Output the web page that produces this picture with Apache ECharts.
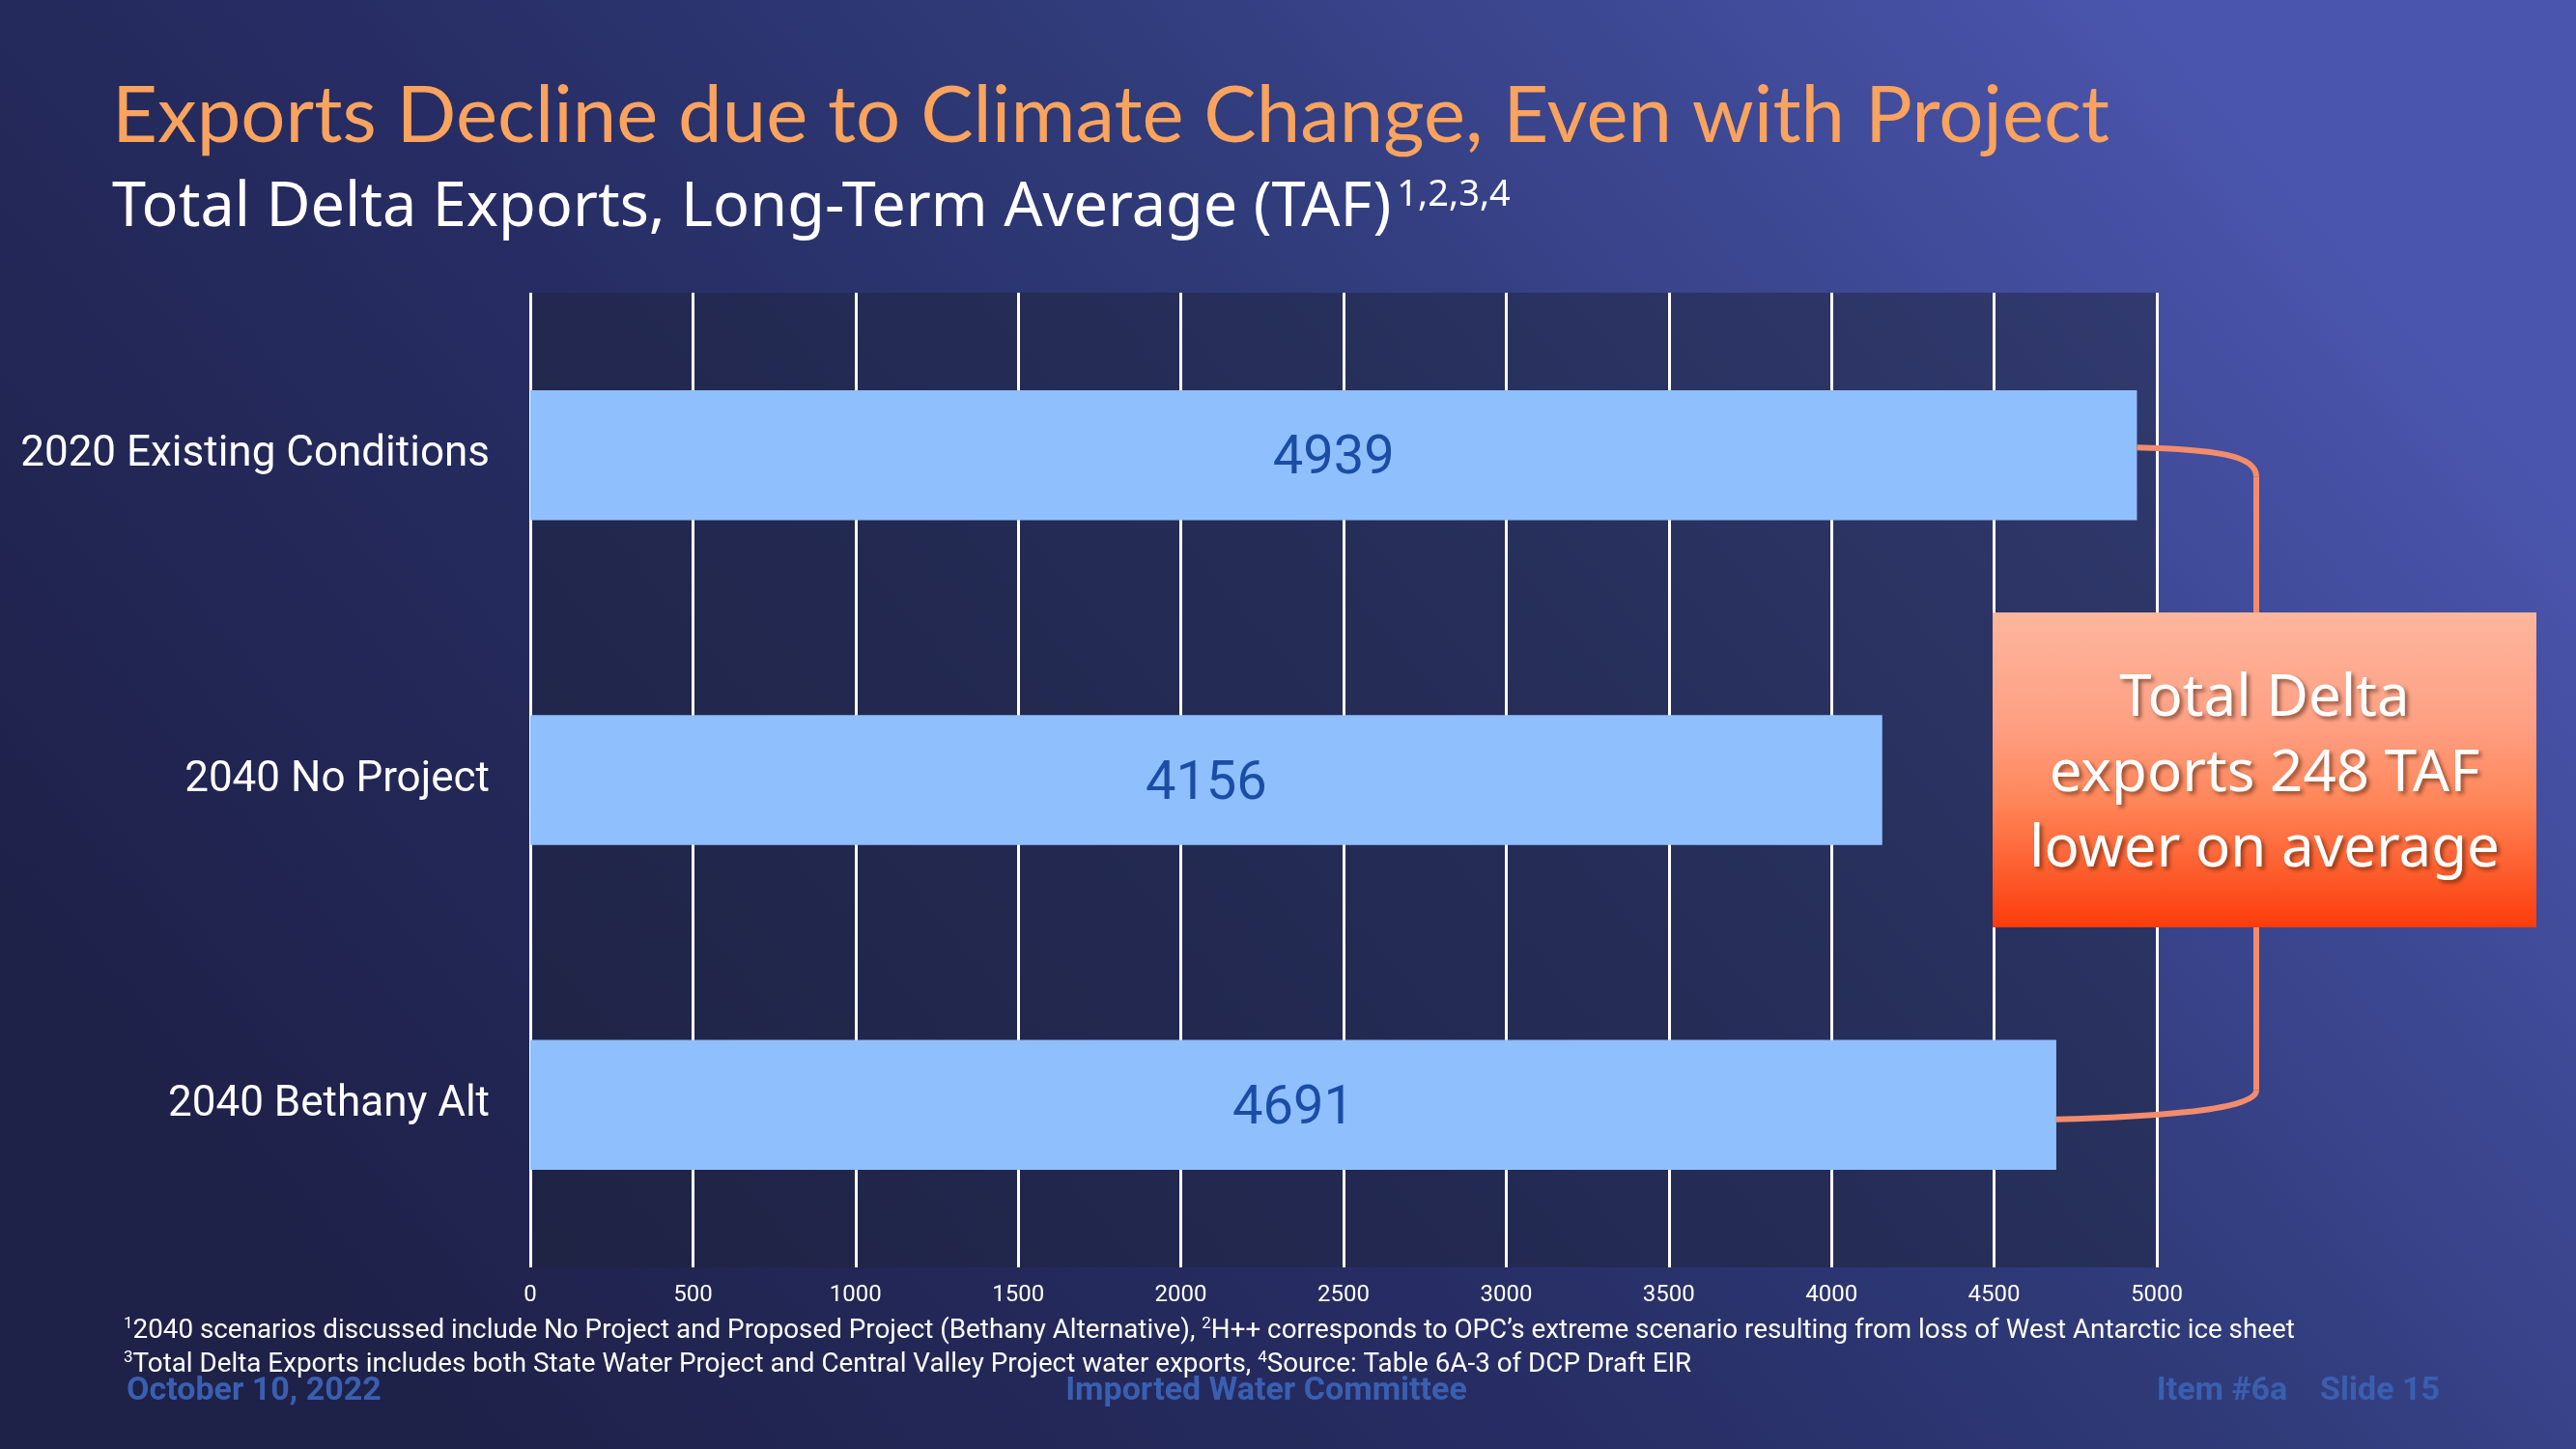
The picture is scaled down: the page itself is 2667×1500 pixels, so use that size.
<!DOCTYPE html>
<html>
<head>
<meta charset="utf-8">
<script src="https://cdn.jsdelivr.net/npm/echarts@6/dist/echarts.min.js"></script>
<style>
html,body{margin:0;padding:0;width:2667px;height:1500px;overflow:hidden;background:#262c58;}
#chart{width:2667px;height:1500px;}
</style>
</head>
<body>
<div id="chart"></div>
<script>
// ---- data ----
const categories = ['2020 Existing Conditions', '2040 No Project', '2040 Bethany Alt'];
const exportsTAF = [4939, 4156, 4691];
const axisMin = 0, axisMax = 5000, axisStep = 500;
const titleText = 'Exports Decline due to Climate Change, Even with Project';
const subtitleText = 'Total Delta Exports, Long-Term Average (TAF)';
const subtitleSup = '1,2,3,4';
const calloutLines = ['Total Delta', 'exports 248 TAF', 'lower on average'];
const footnote1 = '{s|1}{t|2040 scenarios discussed include No Project and Proposed Project (Bethany Alternative), }{s|2}{t|H++ corresponds to OPC\u2019s extreme scenario resulting from loss of West Antarctic ice sheet}';
const footnote2 = '{s|3}{t|Total Delta Exports includes both State Water Project and Central Valley Project water exports, }{s|4}{t|Source: Table 6A-3 of DCP Draft EIR}';
const footerLeft = 'October 10, 2022';
const footerMid = 'Imported Water Committee';
const footerRight = 'Item #6a    Slide 15';

const chart = echarts.init(document.getElementById('chart'));

function measure(text, font) {
  const c = document.createElement('canvas').getContext('2d');
  c.font = font;
  return c.measureText(text).width;
}

const subFont = '400 63px "Noto Sans"';
const subW = measure(subtitleText, subFont);

const option = {
  backgroundColor: {
    type: 'linear', x: 0.17, y: 1, x2: 0.83, y2: 0,
    colorStops: [
      { offset: 0, color: '#1e2148' },
      { offset: 0.383, color: '#272d64' },
      { offset: 0.614, color: '#2f3a78' },
      { offset: 1, color: '#4a55ad' }
    ]
  },
  animation: false,
  grid: {
    left: 549, right: 434, top: 303, bottom: 188,
    show: true, backgroundColor: 'rgba(30,36,60,0.5)', borderWidth: 0
  },
  xAxis: {
    type: 'value', min: axisMin, max: axisMax, interval: axisStep,
    axisLine: { show: false }, axisTick: { show: false },
    axisLabel: { color: '#ffffff', fontSize: 24, margin: 17, fontFamily: 'Roboto', formatter: v => String(v) },
    splitLine: { show: true, lineStyle: { color: '#ffffff', width: 3 } }
  },
  yAxis: {
    type: 'category', data: categories, inverse: true,
    axisLine: { show: false }, axisTick: { show: false },
    axisLabel: { color: '#ffffff', fontSize: 44, margin: 42, fontFamily: 'Roboto' }
  },
  series: [{
    type: 'bar', data: exportsTAF, barCategoryGap: '60%',
    itemStyle: { color: '#8fbffd' },
    label: { show: true, position: 'inside', offset: [0, 5], color: '#1b4da6', fontSize: 56, fontFamily: 'Roboto' },
    z: 3
  }],
  graphic: []
};
chart.setOption(option);

// bracket anchored to bar ends via the chart's own scales
const pTop = chart.convertToPixel({ gridIndex: 0 }, [exportsTAF[0], categories[0]]);
const pBot = chart.convertToPixel({ gridIndex: 0 }, [exportsTAF[2], categories[2]]);
const xr = 2336;
const bracketStyle = { stroke: '#f38c6c', lineWidth: 6, fill: null };
const y1 = pTop[1] - 8, y2 = pBot[1] + 15;

const boxX = 2063, boxY = 634, boxW = 563, boxH = 326;
const boxCx = boxX + boxW / 2;

const graphics = [
  { type: 'bezierCurve', z: 10, shape: { x1: pTop[0], y1: y1, cpx1: pTop[0] + 80, cpy1: y1 + 2, cpx2: xr, cpy2: y1 + 8, x2: xr, y2: y1 + 30 }, style: bracketStyle },
  { type: 'line', z: 10, shape: { x1: xr, y1: y1 + 30, x2: xr, y2: y2 - 30 }, style: bracketStyle },
  { type: 'bezierCurve', z: 10, shape: { x1: xr, y1: y2 - 30, cpx1: xr, cpy1: y2 - 8, cpx2: pBot[0] + 80, cpy2: y2 - 2, x2: pBot[0], y2: y2 }, style: bracketStyle },
  { type: 'rect', z: 20, shape: { x: boxX, y: boxY, width: boxW, height: boxH },
    style: { fill: { type: 'linear', x: 0, y: 0, x2: 0, y2: 1, colorStops: [
      { offset: 0, color: '#fdb69d' }, { offset: 0.35, color: '#fea084' }, { offset: 0.6, color: '#ff8659' }, { offset: 1, color: '#fc3c0a' } ] } } },
  { type: 'text', z: 30, style: { text: titleText, x: 116, y: 121, textVerticalAlign: 'middle', fill: '#f9a35e', font: '400 81.5px Lato' } },
  { type: 'text', z: 30, style: { text: subtitleText, x: 116, y: 216, textVerticalAlign: 'middle', fill: '#ffffff', font: subFont } },
  { type: 'text', z: 30, style: { text: subtitleSup, x: 116 + subW + 6, y: 202, textVerticalAlign: 'middle', fill: '#ffffff', font: '400 38px "Noto Sans"' } },
  { type: 'text', z: 30, style: { text: footnote1, x: 128, y: 1378, textVerticalAlign: 'middle', fill: '#ffffff',
      rich: { t: { fontSize: 27.8, fontFamily: 'Roboto', color: '#ffffff', lineHeight: 32 }, s: { fontSize: 17, fontFamily: 'Roboto', color: '#ffffff', verticalAlign: 'top', lineHeight: 32 } } } },
  { type: 'text', z: 30, style: { text: footnote2, x: 128, y: 1413, textVerticalAlign: 'middle', fill: '#ffffff',
      rich: { t: { fontSize: 27.8, fontFamily: 'Roboto', color: '#ffffff', lineHeight: 32 }, s: { fontSize: 17, fontFamily: 'Roboto', color: '#ffffff', verticalAlign: 'top', lineHeight: 32 } } } },
  { type: 'text', z: 30, style: { text: footerLeft, x: 131, y: 1440, textVerticalAlign: 'middle', fill: '#3a5fb0', font: '700 34px Roboto' } },
  { type: 'text', z: 30, style: { text: footerMid, x: 1311, y: 1440, textAlign: 'center', textVerticalAlign: 'middle', fill: '#3a5fb0', font: '700 34px Roboto' } },
  { type: 'text', z: 30, style: { text: footerRight, x: 2526, y: 1440, textAlign: 'right', textVerticalAlign: 'middle', fill: '#3a5fb0', font: '700 34px Roboto' } }
];
calloutLines.forEach((ln, i) => {
  graphics.push({ type: 'text', z: 30, style: { text: ln, x: boxCx, y: 724 + i * 78, textAlign: 'center', textVerticalAlign: 'middle',
    fill: '#ffffff', font: '400 60px "Noto Sans"', textShadowColor: 'rgba(60,20,0,0.55)', textShadowBlur: 4, textShadowOffsetX: 3, textShadowOffsetY: 3 } });
});
chart.setOption({ graphic: graphics });
</script>
</body>
</html>
